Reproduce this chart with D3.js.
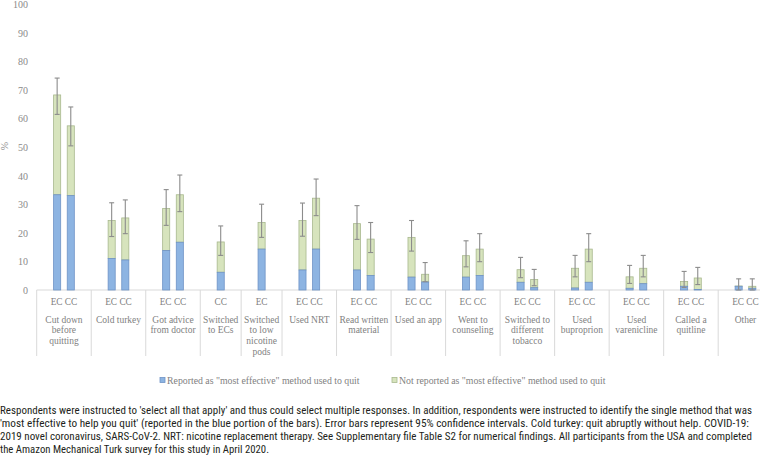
<!DOCTYPE html>
<html><head><meta charset="utf-8">
<script src="https://cdn.jsdelivr.net/npm/d3@7/dist/d3.min.js"></script>
<style>
html,body{margin:0;padding:0;background:#fff;}
svg{display:block;}
.serif{font-family:"Liberation Serif","DejaVu Serif",serif;}
.cap{font-family:"Liberation Sans Narrow","Roboto Condensed","DejaVu Sans Condensed","Liberation Sans",sans-serif;}
</style></head>
<body>
<svg id="chart" width="760" height="456"></svg>
<script>
// ---- data ----
const groupLabels = [
  ["Cut down","before","quitting"],
  ["Cold turkey"],
  ["Got advice","from doctor"],
  ["Switched","to ECs"],
  ["Switched","to low","nicotine","pods"],
  ["Used NRT"],
  ["Read written","material"],
  ["Used an app"],
  ["Went to","counseling"],
  ["Switched to","different","tobacco"],
  ["Used","buproprion"],
  ["Used","varenicline"],
  ["Called a","quitline"],
  ["Other"]
];
const groupMembers = [
  ["EC","CC"],["EC","CC"],["EC","CC"],["CC"],["EC"],["EC","CC"],["EC","CC"],
  ["EC","CC"],["EC","CC"],["EC","CC"],["EC","CC"],["EC","CC"],["EC","CC"],["EC","CC"]
];
// one value per bar, in reading order (left to right)
const mostEffective = [33.3,33.0, 11.0,10.5, 13.8,16.7, 6.2, 14.3, 7.0,14.3, 7.0,5.1, 4.5,2.8, 4.5,5.1, 2.7,0.8, 0.7,2.7, 0.6,2.2, 1.3,0.2, 1.3,0.6];
const totalUsed     = [68.2,57.4, 24.3,25.2, 28.5,33.3, 16.8, 23.6, 24.3,32.1, 23.2,17.8, 18.4,5.5, 12.0,14.3, 7.1,3.7, 7.6,14.3, 4.6,7.6, 3.0,4.2, 1.4,1.3];
const ciLow         = [61.4,50.4, 18.7,19.7, 22.6,27.4, 12.1, 18.4, 18.8,26.0, 17.7,13.1, 13.6,2.9, 8.1,9.9, 4.3,1.5, 4.6,9.9, 2.3,4.6, 0.9,1.9, 0.0,0.0];
const ciHigh        = [74.1,64.0, 30.5,31.5, 35.1,40.2, 22.4, 30.0, 30.4,38.8, 29.5,23.6, 24.3,9.6, 17.2,19.7, 11.4,7.2, 12.1,19.7, 8.6,12.1, 6.5,7.9, 3.9,3.9];
const yTicks = [0,10,20,30,40,50,60,70,80,90,100];
const legendLabels = ['Reported as "most effective" method used to quit','Not reported as "most effective" method used to quit'];
const captionLines = [
  "Respondents were instructed to 'select all that apply' and thus could select multiple responses. In addition, respondents were instructed to identify the single method that was",
  "'most effective to help you quit' (reported in the blue portion of the bars). Error bars represent 95% confidence intervals. Cold turkey: quit abruptly without help. COVID-19:",
  "2019 novel coronavirus, SARS-CoV-2. NRT: nicotine replacement therapy. See Supplementary file Table S2 for numerical findings. All participants from the USA and completed",
  "the Amazon Mechanical Turk survey for this study in April 2020."
];

// ---- layout ----
const svg = d3.select("#chart");
svg.append("rect").attr("width",760).attr("height",456).attr("fill","#fff");
const axisGray = "#8a8a8a";

// build slots: each group = blank, members..., blank
const slots = [];
const bars = [];
const groups = [];
let bi = 0;
groupLabels.forEach((lab, gi) => {
  const first = slots.length;
  slots.push("g"+gi+"_pre");
  const ids = [];
  groupMembers[gi].forEach(m => {
    const id = "g"+gi+"_"+m;
    slots.push(id); ids.push(id);
    bars.push({id, member:m, gi, most:mostEffective[bi], total:totalUsed[bi], lo:ciLow[bi], hi:ciHigh[bi]});
    bi++;
  });
  slots.push("g"+gi+"_post");
  groups.push({gi, lines:lab, members:groupMembers[gi], ids, first:slots[first], last:slots[slots.length-1]});
});

const left = 36.7, slotW = 13.63;
const x = d3.scaleBand().domain(slots).range([left, left + slots.length*slotW]).padding(0);
const y = d3.scaleLinear().domain([0,100]).range([290, 4]);
const barW = x.bandwidth()*0.52;

// y axis tick labels (no line)
const yAxis = d3.axisLeft(y).tickValues(yTicks).tickSize(0).tickPadding(0);
const yg = svg.append("g").attr("transform","translate(28,0)").call(yAxis);
yg.attr("font-family",null).attr("font-size",null);
yg.select(".domain").remove();
yg.selectAll("text").attr("class","serif").style("font-size","10px").attr("fill",axisGray).attr("dy","0.35em");

svg.append("text").attr("class","serif").attr("transform","translate(8,146) rotate(-90)")
  .attr("text-anchor","middle").style("font-size","10px").attr("fill",axisGray).text("%");

// x axis line and separators
const axisLine = "#d9d9d9";
svg.append("line").attr("x1",left).attr("x2",left + slots.length*slotW).attr("y1",y(0)).attr("y2",y(0))
  .attr("stroke",axisLine).attr("stroke-width",1);
const sepXs = [x(groups[0].first)].concat(groups.map(g => x(g.last)+x.bandwidth()));
svg.append("g").selectAll("line").data(sepXs).join("line")
  .attr("x1",d=>d).attr("x2",d=>d).attr("y1",y(0)).attr("y2",356)
  .attr("stroke",axisLine).attr("stroke-width",1);

// bars
const blueFill = "#8DB4E2", blueStroke = "#6F93C6";
const greenFill = "#D7E4BD", greenStroke = "#A8B88E";
const bx = d => x(d.id) + (x.bandwidth()-barW)/2;
svg.append("g").selectAll("rect").data(bars).join("rect")
  .attr("x",bx).attr("width",barW)
  .attr("y",d=>y(d.total)).attr("height",d=>y(d.most)-y(d.total))
  .attr("fill",greenFill).attr("stroke",greenStroke).attr("stroke-width",0.8);
svg.append("g").selectAll("rect").data(bars.filter(d=>d.most>0)).join("rect")
  .attr("x",bx).attr("width",barW)
  .attr("y",d=>y(d.most)).attr("height",d=>y(0)-y(d.most))
  .attr("fill",blueFill).attr("stroke",blueStroke).attr("stroke-width",0.8);

// error bars
const errColor = "#8c8c8c", capW = 5;
const eg = svg.append("g").attr("stroke",errColor).attr("stroke-width",1.1);
bars.forEach(d => {
  const cx = x(d.id) + x.bandwidth()/2;
  eg.append("line").attr("x1",cx).attr("x2",cx).attr("y1",y(d.lo)).attr("y2",y(d.hi));
  eg.append("line").attr("x1",cx-capW/2).attr("x2",cx+capW/2).attr("y1",y(d.hi)).attr("y2",y(d.hi));
  eg.append("line").attr("x1",cx-capW/2).attr("x2",cx+capW/2).attr("y1",y(d.lo)).attr("y2",y(d.lo));
});

// member labels (one line per group, centred on the group's bars)
const labGray = "#7f7f7f";
groups.forEach(g => {
  const xs = g.ids.map(id => x(id) + x.bandwidth()/2);
  const cx = d3.mean(xs);
  svg.append("text").attr("class","serif").attr("x",cx).attr("y",304.5)
    .attr("text-anchor","middle").style("font-size","9.3px").attr("fill",labGray)
    .text(g.members.join(" "));
});

// group labels
groups.forEach(g => {
  const cx = (x(g.first) + x(g.last) + x.bandwidth())/2;
  const t = svg.append("text").attr("class","serif").attr("text-anchor","middle")
    .style("font-size","9.5px").attr("fill",labGray);
  g.lines.forEach((ln,i) => t.append("tspan").attr("x",cx).attr("y",322.5 + i*10.8).text(ln));
});

// legend
const legend = [{label:legendLabels[0], fill:blueFill, stroke:blueStroke, x:160},
                {label:legendLabels[1], fill:greenFill, stroke:greenStroke, x:392}];
const lg = svg.append("g");
legend.forEach(l => {
  lg.append("rect").attr("x",l.x).attr("y",377.5).attr("width",5).attr("height",5)
    .attr("fill",l.fill).attr("stroke",l.stroke).attr("stroke-width",0.8);
  lg.append("text").attr("class","serif").attr("x",l.x+7).attr("y",384).style("font-size","9.8px")
    .attr("fill",labGray).text(l.label);
});

// caption
const capWidths = [752, 749, 752, 269];
svg.append("g").selectAll("text").data(captionLines).join("text")
  .attr("class","cap")
  .attr("x",0).attr("y",(d,i)=>414 + i*13)
  .style("font-size","10.5px").attr("fill","#231f20")
  .attr("textLength",(d,i)=>capWidths[i]).attr("lengthAdjust","spacingAndGlyphs")
  .text(d=>d);
</script>
</body></html>
